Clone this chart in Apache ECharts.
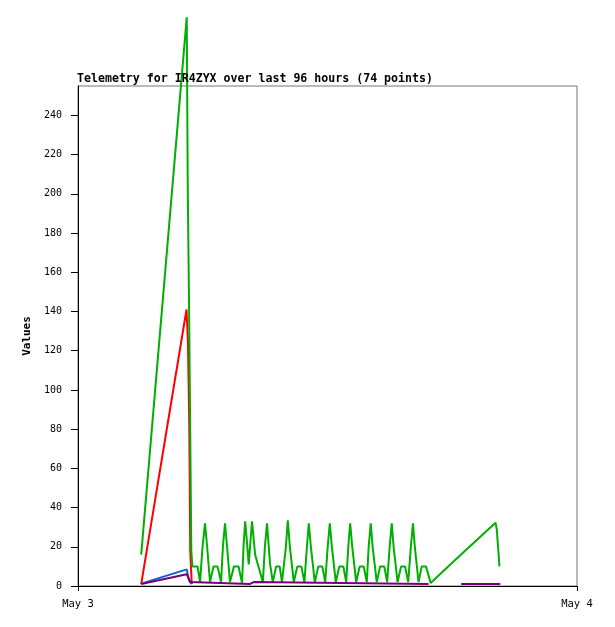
<!DOCTYPE html>
<html>
<head>
<meta charset="utf-8">
<script src="https://cdn.jsdelivr.net/npm/echarts@6/dist/echarts.min.js"></script>
<style>html,body{margin:0;padding:0;background:#fff;}#c{width:615px;height:627px;}</style>
</head>
<body>
<div id="c"></div>
<script>
// x values are hours after May 3 00:00
const xTickLabels = {0: 'May 3', 24: 'May 4'};
const yTicks = [0, 20, 40, 60, 80, 100, 120, 140, 160, 180, 200, 220, 240];

const greenHours = [3.04, 5.23, 5.28, 5.34, 5.39, 5.45, 5.50, 5.75, 5.87, 5.99, 6.11, 6.21, 6.35, 6.52, 6.71, 6.88, 6.97, 7.07, 7.17, 7.31, 7.50, 7.72, 7.89, 7.96, 8.04, 8.13, 8.21, 8.29, 8.37, 8.52, 8.65, 8.74, 8.89, 8.99, 9.09, 9.24, 9.37, 9.53, 9.70, 9.81, 10.00, 10.09, 10.19, 10.38, 10.55, 10.74, 10.89, 11.01, 11.10, 11.20, 11.39, 11.56, 11.75, 11.89, 12.01, 12.11, 12.21, 12.40, 12.57, 12.76, 12.90, 13.00, 13.09, 13.19, 13.38, 13.55, 13.74, 13.89, 13.98, 14.08, 14.17, 14.37, 14.53, 14.73, 14.87, 14.99, 15.09, 15.18, 15.37, 15.54, 15.73, 15.88, 16.01, 16.11, 16.20, 16.38, 16.53, 16.74, 16.96, 18.01, 18.83, 19.65, 20.08, 20.14, 20.21, 20.27];
const greenValues = [16, 290, 202, 144, 87, 18, 10, 10, 2, 20, 32, 20, 2, 10, 10, 2, 20, 32, 20, 2, 10, 10, 1.5, 20, 33, 22, 11, 22, 33, 16, 11, 7.6, 2, 20, 32, 11, 2, 10, 10, 2, 20, 33.5, 20, 2, 10, 10, 2, 20, 32, 20, 2, 10, 10, 2, 20, 32, 20, 2, 10, 10, 2, 20, 32, 20, 2, 10, 10, 2, 20, 32, 20, 2, 10, 10, 2, 20, 32, 20, 2, 10, 10, 2, 20, 32, 20, 2, 10, 10, 1.5, 12, 20, 28, 32.3, 29, 19, 10];

const redHours = [3.04, 5.22, 5.29, 5.35, 5.40, 5.47];
const redValues = [1, 141, 124, 83, 18, 1];

const blueHours = [3.04, 5.23, 5.31, 5.39, 5.47];
const blueValues = [1.2, 8.5, 4, 2, 1];

const purpleHours = [3.04, 5.23, 5.32, 5.39, 5.47, 8.25, 8.32, 8.45, 8.53, 16.86, 16.9, 18.43, 20.31];
const purpleValues = [1, 6, 4, 2, 1, 1, 2, 2, 1, 1, '-', 1, 1];

function pairs(xs, ys) { return xs.map((x, i) => [x, ys[i]]); }

const mono = 'DejaVu Sans Mono';
const chart = echarts.init(document.getElementById('c'), null, {renderer: 'canvas'});
chart.setOption({
  animation: false,
  backgroundColor: '#fff',
  title: {
    text: 'Telemetry for IR4ZYX over last 96 hours (74 points)',
    left: 77, top: 73, padding: 0,
    textStyle: {fontFamily: mono, fontWeight: 'bold', fontSize: 11.6, color: '#000'}
  },
  grid: {left: 78, right: 38, top: 86, bottom: 41, show: true, borderColor: '#777', borderWidth: 1, backgroundColor: '#fff'},
  xAxis: {
    type: 'value', min: 0, max: 24, interval: 24,
    axisLine: {onZero: false, lineStyle: {color: '#000', width: 1}},
    axisTick: {show: true, length: 5, lineStyle: {color: '#000'}},
    axisLabel: {margin: 13, fontFamily: mono, fontSize: 10.5, color: '#000', formatter: v => xTickLabels[v] || ''},
    splitLine: {show: false}
  },
  yAxis: {
    type: 'value', min: 0, max: 255,
    name: 'Values', nameLocation: 'middle', nameGap: 41,
    nameTextStyle: {fontFamily: mono, fontWeight: 'bold', fontSize: 11, color: '#000'},
    axisLine: {show: true, lineStyle: {color: '#000', width: 1}},
    axisTick: {show: true, length: 7, customValues: yTicks, lineStyle: {color: '#000'}},
    axisLabel: {margin: 16, fontFamily: mono, fontSize: 10, color: '#000', customValues: yTicks},
    splitLine: {show: false}
  },
  series: [
    {type: 'line', data: pairs(redHours, redValues), symbol: 'none', clip: false, lineStyle: {color: '#ff0000', width: 2}},
    {type: 'line', data: pairs(blueHours, blueValues), symbol: 'none', clip: false, lineStyle: {color: '#0a64d2', width: 2}},
    {type: 'line', data: pairs(greenHours, greenValues), symbol: 'none', clip: false, lineStyle: {color: '#00b000', width: 2}},
    {type: 'line', data: pairs(purpleHours, purpleValues), symbol: 'none', clip: false, connectNulls: false, lineStyle: {color: '#760076', width: 2}}
  ]
});
</script>
</body>
</html>
